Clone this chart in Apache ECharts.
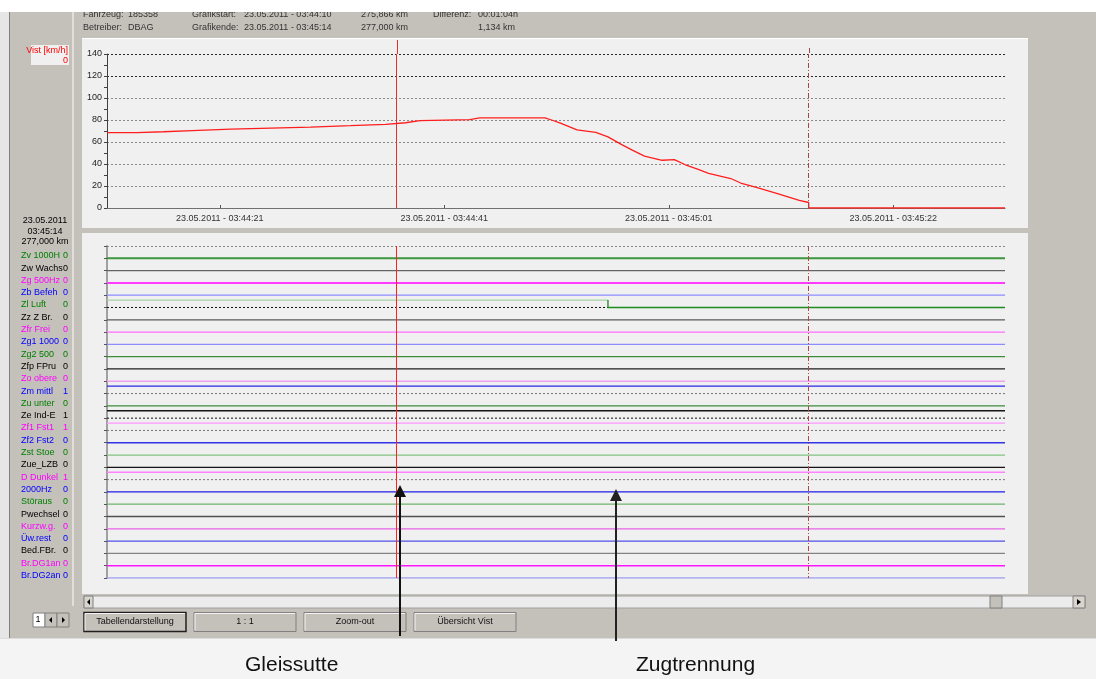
<!DOCTYPE html>
<html><head><meta charset="utf-8">
<script src="https://cdn.jsdelivr.net/npm/echarts@6/dist/echarts.min.js"></script>
<style>html,body{margin:0;padding:0;background:#fff;overflow:hidden}#c{width:1096px;height:679px}</style>
</head><body><div id="c"></div>
<script>
// ---------------- data ----------------
// time axis: seconds after 23.05.2011 03:44:00
const xMin = 11.1, xMax = 92.3;
const xTickTimes = [21.3, 41.6, 61.9, 82.2];
const xTickLabels = ['23.05.2011 - 03:44:21', '23.05.2011 - 03:44:41', '23.05.2011 - 03:45:01', '23.05.2011 - 03:45:22'];
const speedTicks = [0, 20, 40, 60, 80, 100, 120, 140];
const speedTime = [11.1, 13.8, 13.8, 16.2, 16.2, 18.8, 18.8, 22.3, 25.9, 29.5, 33.1, 36.3, 38.1, 39.4, 43.9, 44.8, 50.7, 51.3, 52.1, 53.6, 55.3, 56.4, 57.6, 58.6, 59.7, 61.3, 62.4, 63.4, 64.5, 65.5, 67.5, 68.4, 69.9, 71.8, 73.7, 74.55, 74.55, 92.3];
const speedValue = [68.5, 68.5, 69.3, 69.3, 70.3, 70.3, 71.3, 71.7, 72.6, 73.6, 74.8, 76, 77.5, 79.5, 80.3, 82, 82, 80, 77.2, 71, 68.8, 64.7, 57.9, 52.6, 47.1, 43.4, 43.9, 39.3, 35.3, 31.5, 26.8, 22.7, 18.5, 12.9, 7, 5, 0, 0];
const cursorTime = 37.3;   // 03:44:37 cursor
const endTime = 74.55;     // Grafikende 03:45:14

const signalNames = ['Zv 1000H', 'Zw Wachs', 'Zg 500Hz', 'Zb Befeh', 'Zl Luft', 'Zz Z Br.', 'Zfr Frei', 'Zg1 1000', 'Zg2 500', 'Zfp FPru', 'Zo obere', 'Zm mittl', 'Zu unter', 'Ze Ind-E', 'Zf1 Fst1', 'Zf2 Fst2', 'Zst Stoe', 'Zue_LZB', 'D Dunkel', '2000Hz', 'Störaus', 'Pwechsel', 'Kurzw.g.', 'Üw.rest', 'Bed.FBr.', 'Br.DG1an', 'Br.DG2an'];
const signalValues = [0, 0, 0, 0, 0, 0, 0, 0, 0, 0, 0, 1, 0, 1, 1, 0, 0, 0, 1, 0, 0, 0, 0, 0, 0, 0, 0];
const signalStartValues = [0, 0, 0, 0, 1, 0, 0, 0, 0, 0, 0, 1, 0, 1, 1, 0, 0, 0, 1, 0, 0, 0, 0, 0, 0, 0, 0];
const changeSignal = [4];
const changeTime = [56.4];
const changeValue = [0];

const headerRow1 = ['Fahrzeug:', '185358', 'Grafikstart:', '23.05.2011 - 03:44:10', '275,866 km', 'Differenz:', '00:01:04h'];
const headerRow2 = ['Betreiber:', 'DBAG', 'Grafikende:', '23.05.2011 - 03:45:14', '277,000 km', '', '1,134 km'];
const cursorInfo = ['23.05.2011', '03:45:14', '277,000 km'];
const buttonLabels = ['Tabellendarstellung', '1 : 1', 'Zoom-out', 'Übersicht Vist'];
const annotationLabels = ['Gleissutte', 'Zugtrennung'];

// ---------------- styles ----------------
const FONT = 'Liberation Sans, Arial, sans-serif';
const labelColorKey = ['g','k','m','b','g','k','m','b','g','k','m','b','g','k','m','b','g','k','m','b','g','k','m','b','k','m','b'];
const labelColors = {g:'#008000', k:'#000000', m:'#ff00ff', b:'#0000ff'};
const lineColor = ['#3c963c','#646464','#ff3cff','#8c8cff','#1e8c1e','#5a5a5a','#ff6eff','#8c8cff','#3c8c3c','#1e1e1e','#f0a0f0','#2828e6','#3c8c3c','#141414','#ff96ff','#3232e6','#82c382','#141414','#ff82ff','#1e1ee6','#6eb46e','#505050','#e664e6','#5050e6','#828282','#ff14ff','#a0a0f0'];
const lineColorOn = lineColor.slice(); lineColorOn[4] = '#a8d4a8';
const lineWidth = lineColor.map((c,i)=> (i===0||i===2)?2:(i===25?1.6:1.3));
const baseColor = lineColor.map((c,i)=> (i===4||i===13)?'#111':'#777');
const RAISE = 0.6;

// ---------------- build ----------------
const rich = {};
Object.keys(labelColors).forEach(k=>{
  rich['n'+k] = {color: labelColors[k], fontSize: 9, fontFamily: FONT, width: 41, align: 'left'};
  rich['v'+k] = {color: labelColors[k], fontSize: 9, fontFamily: FONT, width: 6, align: 'right'};
});

const series = [];
series.push({
  type: 'line', xAxisIndex: 0, yAxisIndex: 0, showSymbol: false, silent: true,
  data: speedTime.map((t,i)=>[t, speedValue[i]]),
  lineStyle: {color: '#ff1e1e', width: 1.3},
  markLine: {symbol: 'none', silent: true, label: {show: false},
    data: [
      {xAxis: cursorTime, lineStyle: {color: '#e03030', type: 'solid', width: 1}},
      {xAxis: endTime, lineStyle: {color: '#a04848', type: [5,2,1,2], width: 1}}
    ]}
});

signalNames.forEach((name, i)=>{
  const segs = [];
  let v = signalStartValues[i], t0 = xMin;
  changeSignal.forEach((s, k)=>{ if (s===i){ segs.push({t0, t1: changeTime[k], v}); t0 = changeTime[k]; v = changeValue[k]; } });
  segs.push({t0, t1: xMax, v});
  segs.forEach((sg, k)=>{
    const lvl = i - RAISE*sg.v;
    const data = [];
    if (k>0) { const prev = segs[k-1]; data.push([sg.t0, i - RAISE*prev.v]); }
    data.push([sg.t0, lvl]); data.push([sg.t1, lvl]);
    series.push({type:'line', xAxisIndex:1, yAxisIndex:1, showSymbol:false, silent:true, data,
      lineStyle:{color: sg.v? lineColorOn[i] : lineColor[i], width: lineWidth[i]}});
    if (sg.v) {
      series.push({type:'line', xAxisIndex:1, yAxisIndex:1, showSymbol:false, silent:true,
        data: [[sg.t0, i],[sg.t1, i]], lineStyle:{color: baseColor[i], width: 1, type:[2,2]}});
    }
  });
});
series.push({type:'line', xAxisIndex:1, yAxisIndex:1, showSymbol:false, silent:true, data: [], z: 5,
  markLine: {symbol:'none', silent:true, label:{show:false},
    data: [
      {yAxis: -1, lineStyle:{color:'#888', type:[2,2], width:1}},
      {xAxis: cursorTime, lineStyle:{color:'#ff2020', type:'solid', width:1}},
      {xAxis: endTime, lineStyle:{color:'#b04848', type:[5,2,1,2], width:1}}
    ]}});

// ---------------- chrome ----------------
const G = [];
const rect = (x,y,w,h,fill,stroke,z,lw)=>G.push({type:'rect', z: z||-50, shape:{x,y,width:w,height:h}, style:{fill, stroke: stroke||null, lineWidth: lw||1}});
const line = (x1,y1,x2,y2,stroke,w,z,dash)=>G.push({type:'line', z: z||-40, shape:{x1,y1,x2,y2}, style:{stroke, lineWidth: w||1, lineDash: dash||null}});
const text = (x,y,t,opts)=>G.push({type:'text', z: (opts&&opts.z)||-20, x, y, style:Object.assign({text:t, fill:'#222', font:'9px '+FONT, textAlign:'left', align:'left', textVerticalAlign:'middle', verticalAlign:'middle'}, opts||{})});

rect(0,0,1096,679,'#f4f4f4',null,-100);
rect(0,12,1096,626,'#c4c0ba',null,-90);
rect(0,12,9,626,'#e6e6e6',null,-89);
line(9.5,12,9.5,638,'#808080',1,-88);
line(73,12,73,606,'#e2dfda',2,-88);
line(0,638.5,1096,638.5,'#dcdcdc',1,-88);
// panels
rect(82,38,946,190,'#f0f0f0',null,-80);
line(82,38.5,1028,38.5,'#ffffff',1,-79);
rect(82,233,946,361,'#f0f0f0',null,-80);
// Vist box
rect(31,45,38,20,'#f0f0f0',null,-70);
text(68,51,'Vist [km/h]',{fill:'#ff0000', textAlign:'right', align:'right'});
text(68,61,'0',{fill:'#ff0000', textAlign:'right', align:'right'});
// cursor info
cursorInfo.forEach((s,k)=>text(45, 221 + k*10.5, s, {fill:'#000', textAlign:'center', align:'center'}));
// header
const hx = [83, 128, 192, 244, 361, 433, 478];
headerRow1.forEach((s,k)=>text(hx[k], 15, s, {fill:'#333'}));
headerRow2.forEach((s,k)=>text(hx[k], 27.5, s, {fill:'#333'}));
rect(0,0,1096,12,'#ffffff',null,-15);
// scrollbar
rect(84,596,1001,12,'#ececec','#a0a0a0',-60);
rect(84,596,9,12,'#d8d4ce','#808080',-59);
G.push({type:'polygon', z:-58, shape:{points:[[87,602],[90,599],[90,605]]}, style:{fill:'#000'}});
rect(1073,596,12,12,'#d8d4ce','#808080',-59);
G.push({type:'polygon', z:-58, shape:{points:[[1081,602],[1077,599],[1077,605]]}, style:{fill:'#000'}});
rect(990,596,12,12,'#c4c0ba','#808080',-59);
// buttons
const bx = [84, 194, 304, 414];
buttonLabels.forEach((s,k)=>{
  rect(bx[k], 612.5, 102, 19, '#c4c0ba', k===0? '#202020':'#808080', -60, k===0?1.5:1);
  line(bx[k]+1, 613.5, bx[k]+101, 613.5, '#f4f4f4', 1, -59);
  line(bx[k]+1, 613.5, bx[k]+1, 630.5, '#f4f4f4', 1, -59);
  text(bx[k]+51, 622, s, {fill:'#111', textAlign:'center', align:'center'});
});
// page spinner
rect(33,613,12,14,'#ffffff','#808080',-60);
text(38,620,'1',{fill:'#000', textAlign:'center', align:'center'});
rect(45,613,12,14,'#c4c0ba','#808080',-60);
rect(57,613,12,14,'#c4c0ba','#808080',-60);
G.push({type:'polygon', z:-58, shape:{points:[[49,620],[52,617],[52,623]]}, style:{fill:'#000'}});
G.push({type:'polygon', z:-58, shape:{points:[[65,620],[62,617],[62,623]]}, style:{fill:'#000'}});
// annotations
text(245, 665, annotationLabels[0], {fill:'#111', font:'21px '+FONT, z: 100});
text(636, 665, annotationLabels[1], {fill:'#111', font:'21px '+FONT, z: 100});
line(400, 495, 400, 636, '#111', 2, 100);
G.push({type:'polygon', z:100, shape:{points:[[400,485],[394,497],[406,497]]}, style:{fill:'#111'}});
line(616, 500, 616, 641, '#222', 2, 100);
G.push({type:'polygon', z:100, shape:{points:[[616,489],[610,501],[622,501]]}, style:{fill:'#222'}});

// ---------------- option ----------------
const chart = echarts.init(document.getElementById('c'), null, {renderer: 'canvas'});
chart.setOption({
  animation: false,
  backgroundColor: 'transparent',
  graphic: {elements: G},
  grid: [
    {left: 107, top: 54, width: 898, height: 154, containLabel: false},
    {left: 107, top: 246, width: 898, height: 332, containLabel: false}
  ],
  xAxis: [
    {type: 'value', gridIndex: 0, min: xMin, max: xMax,
      axisLine: {show: true, lineStyle: {color: '#707070', width: 1}},
      axisTick: {show: true, customValues: xTickTimes, length: 3, inside: true, lineStyle: {color: '#555'}},
      axisLabel: {show: true, customValues: xTickTimes, margin: 6, fontSize: 9, fontFamily: FONT, color: '#333',
        formatter: (v)=>{ const k = xTickTimes.indexOf(v); return k>=0 ? xTickLabels[k] : ''; }},
      splitLine: {show: false}},
    {type: 'value', gridIndex: 1, min: xMin, max: xMax, show: false}
  ],
  yAxis: [
    {type: 'value', gridIndex: 0, min: 0, max: 140, interval: 20,
      axisLine: {show: true, lineStyle: {color: '#404040', width: 1}},
      axisTick: {show: true, length: 3, lineStyle: {color: '#404040'}},
      minorTick: {show: true, splitNumber: 2, length: 3, lineStyle: {color: '#404040'}},
      axisLabel: {fontSize: 9, fontFamily: FONT, color: '#222', margin: 5,
        formatter: (v)=> speedTicks.indexOf(v)>=0 ? String(v) : ''},
      splitLine: {show: true, lineStyle: {type: [2,2], width: 1,
        color: ['#707070','#8a8a8a','#8a8a8a','#8a8a8a','#8a8a8a','#8a8a8a','#2a2a2a','#2a2a2a']}}},
    {type: 'value', gridIndex: 1, min: -1, max: 26, interval: 1, inverse: true,
      axisLine: {show: true, lineStyle: {color: '#a0a0a0', width: 2}},
      axisTick: {show: true, length: 3, lineStyle: {color: '#555'}},
      axisLabel: {show: true, interval: 0, align: 'left', margin: 86, padding: [0,0,5,0],
        fontSize: 9, fontFamily: FONT, rich,
        formatter: (v)=>{ if (v<0 || v>=signalNames.length) return ''; const c = labelColorKey[v];
          return '{n'+c+'|'+signalNames[v]+'}{v'+c+'|'+signalValues[v]+'}'; }},
      splitLine: {show: false}}
  ],
  series
});
// extend the cursor line and the end marker up into the panel header, positioned via the axis scale
const cx = chart.convertToPixel({xAxisIndex: 0}, cursorTime);
const ex = chart.convertToPixel({xAxisIndex: 0}, endTime);
const top140 = chart.convertToPixel({yAxisIndex: 0}, 140);
line(Math.round(cx)+0.5, 40, Math.round(cx)+0.5, top140, '#e03030', 1, 10);
line(Math.round(ex)+0.5, 48, Math.round(ex)+0.5, top140, '#a04848', 1, 10, [5,2,1,2]);
chart.setOption({graphic: {elements: G}});
</script>
</body></html>
